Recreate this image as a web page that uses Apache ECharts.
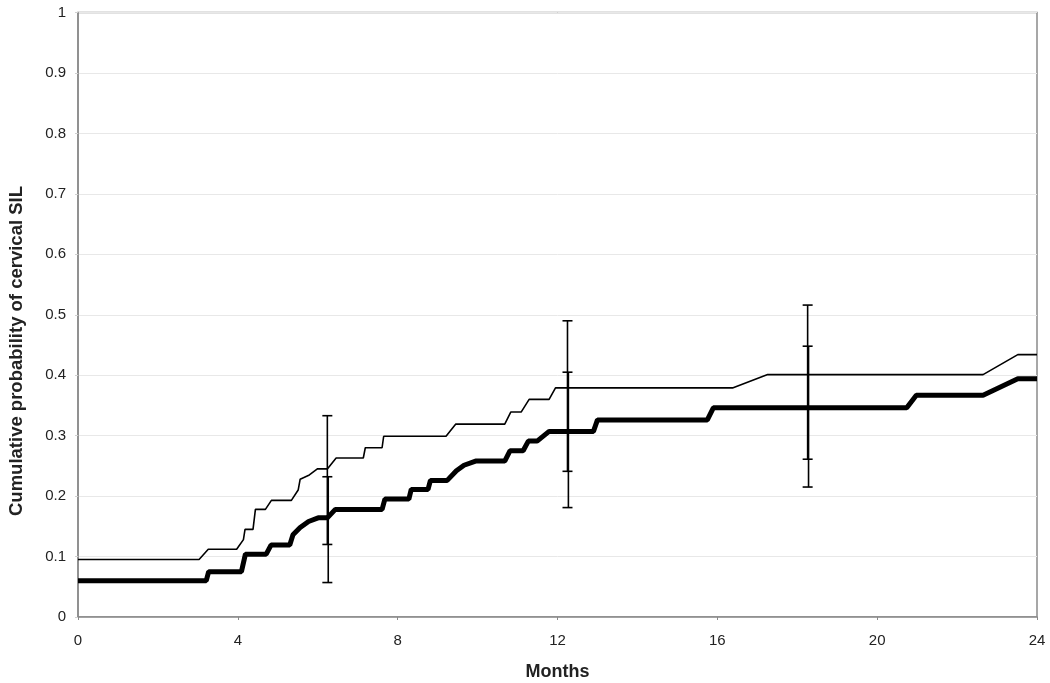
<!DOCTYPE html>
<html>
<head>
<meta charset="utf-8">
<script src="https://cdn.jsdelivr.net/npm/echarts@6/dist/echarts.min.js"></script>
<style>html,body{margin:0;padding:0;background:#fff;}#c{width:1050px;height:683px;}</style>
</head>
<body>
<div id="c"></div>
<script>
var xTicks = [0, 4, 8, 12, 16, 20, 24];
var yTicks = [0, 0.1, 0.2, 0.3, 0.4, 0.5, 0.6, 0.7, 0.8, 0.9, 1];

var thinMonths = [0,3.03,3.26,3.97,4.14,4.18,4.38,4.44,4.69,4.84,5.34,5.51,5.56,5.79,5.99,6.24,6.46,7.14,7.19,7.61,7.65,9.21,9.45,10.68,10.83,11.09,11.29,11.79,11.95,16.38,17.26,22.65,23.52,24];
var thinProb = [0.095,0.095,0.112,0.112,0.128,0.145,0.145,0.178,0.178,0.193,0.193,0.21,0.228,0.235,0.245,0.245,0.263,0.263,0.28,0.28,0.299,0.299,0.319,0.319,0.339,0.339,0.36,0.36,0.379,0.379,0.401,0.401,0.434,0.434];

var thickMonths = [0,3.21,3.27,4.09,4.19,4.71,4.83,5.30,5.38,5.56,5.77,6.01,6.24,6.44,7.61,7.68,8.28,8.34,8.76,8.82,9.24,9.47,9.66,9.95,10.68,10.81,11.14,11.27,11.49,11.79,12.9,13.0,15.75,15.9,20.74,20.98,22.65,23.52,24];
var thickProb = [0.06,0.06,0.075,0.075,0.104,0.104,0.119,0.119,0.136,0.148,0.158,0.164,0.164,0.178,0.178,0.195,0.195,0.211,0.211,0.226,0.226,0.242,0.251,0.258,0.258,0.275,0.275,0.291,0.291,0.307,0.307,0.326,0.326,0.346,0.346,0.367,0.367,0.394,0.394];

var errMonths = [6.24, 6.24, 12.25, 12.25, 18.26, 18.26];
var errLow  = [0.12, 0.057, 0.241, 0.181, 0.261, 0.215];
var errHigh = [0.333, 0.232, 0.49, 0.405, 0.516, 0.448];

var yTitle = 'Cumulative probability of cervical SIL';
var xTitle = 'Months';

function pairs(xs, ys){ return xs.map(function(x,i){ return [x, ys[i]]; }); }

var chart = echarts.init(document.getElementById('c'));
chart.setOption({
  animation: false,
  backgroundColor: '#fff',
  grid: { left: 78, right: 13, top: 12.5, bottom: 66, containLabel: false, outerBoundsMode: 'none',
    show: true, borderColor: '#8a8a8a', borderWidth: 1.5, backgroundColor: 'transparent' },
  graphic: [{
    type: 'text', x: 17, y: 351, rotation: Math.PI / 2,
    style: { text: yTitle, fontFamily: 'Liberation Sans', fontSize: 18.5, fontWeight: 'bold', fill: '#222',
      align: 'center', verticalAlign: 'middle' }
  }],
  xAxis: {
    type: 'value', min: 0, max: 24, interval: 4,
    name: xTitle, nameLocation: 'middle', nameGap: 46,
    nameTextStyle: { fontFamily: 'Liberation Sans', fontSize: 18, fontWeight: 'bold', color: '#222' },
    axisLine: { show: true, lineStyle: { color: '#8a8a8a', width: 1.5 } },
    axisTick: { show: true, length: 3, lineStyle: { color: '#8a8a8a' } },
    axisLabel: { fontFamily: 'Liberation Sans', fontSize: 15, color: '#222', margin: 16,
      formatter: function(v){ return xTicks.indexOf(v) >= 0 ? String(v) : ''; } },
    splitLine: { show: false }
  },
  yAxis: {
    type: 'value', min: 0, max: 1, interval: 0.1,
    axisLine: { show: true, lineStyle: { color: '#8a8a8a', width: 1.5 } },
    axisTick: { show: true, length: 3, lineStyle: { color: '#d0d0d0' } },
    axisLabel: { fontFamily: 'Liberation Sans', fontSize: 15, color: '#222', margin: 12,
      formatter: function(v){ var r = Math.round(v*10)/10; return yTicks.indexOf(r) >= 0 ? String(r) : ''; } },
    splitLine: { show: true, lineStyle: { color: '#e8e8e8', width: 1 } }
  },
  series: [
    { type: 'line', name: 'thin', data: pairs(thinMonths, thinProb), showSymbol: false, symbol: 'none',
      lineStyle: { color: '#000', width: 1.6 }, z: 3 },
    { type: 'line', name: 'thick', data: pairs(thickMonths, thickProb), showSymbol: false, symbol: 'none',
      lineStyle: { color: '#000', width: 5 }, z: 3 },
    { type: 'custom', name: 'ci', z: 4,
      data: errMonths.map(function(x,i){ return [x, errLow[i], errHigh[i]]; }),
      renderItem: function(params, api){
        var x = api.value(0);
        var lo = api.coord([x, api.value(1)]);
        var hi = api.coord([x, api.value(2)]);
        var dx = (params.dataIndex % 2) ? 0.9 : 0;
        var half = 5;
        var st = { stroke: '#000', lineWidth: 1.6 };
        return { type: 'group', children: [
          { type: 'line', shape: { x1: lo[0]+dx, y1: lo[1], x2: hi[0]+dx, y2: hi[1] }, style: st },
          { type: 'line', shape: { x1: lo[0]-half, y1: lo[1], x2: lo[0]+half, y2: lo[1] }, style: st },
          { type: 'line', shape: { x1: hi[0]-half, y1: hi[1], x2: hi[0]+half, y2: hi[1] }, style: st }
        ]};
      }
    }
  ]
});
</script>
</body>
</html>
